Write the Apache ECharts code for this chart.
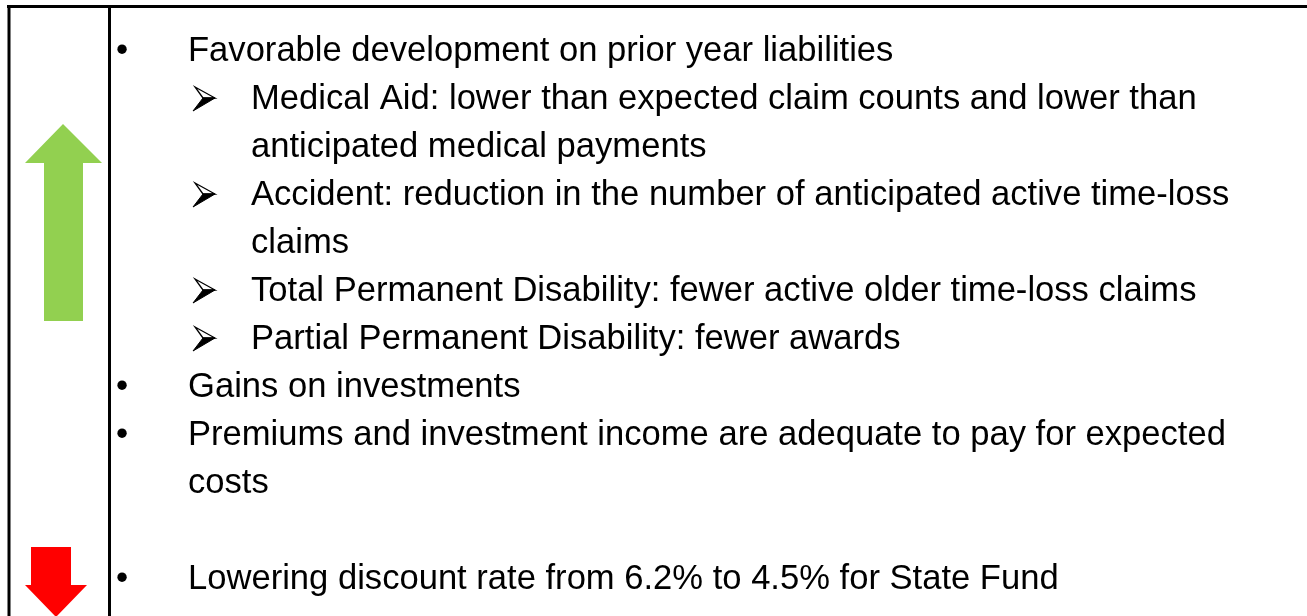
<!DOCTYPE html>
<html>
<head>
<meta charset="utf-8">
<script src="https://cdn.jsdelivr.net/npm/echarts@6/dist/echarts.min.js"></script>
<style>
html,body{margin:0;padding:0;background:#fff;}
#chart{width:1307px;height:616px;}
</style>
</head>
<body>
<div id="chart"></div>
<script>
// Text content of the slide
const lineTexts = [
  "Favorable development on prior year liabilities",
  "Medical Aid: lower than expected claim counts and lower than",
  "anticipated medical payments",
  "Accident: reduction in the number of anticipated active time-loss",
  "claims",
  "Total Permanent Disability: fewer active older time-loss claims",
  "Partial Permanent Disability: fewer awards",
  "Gains on investments",
  "Premiums and investment income are adequate to pay for expected",
  "costs",
  "",
  "Lowering discount rate from 6.2% to 4.5% for State Fund"
];
// 0 = main level, 1 = sub level
const lineLevels = [0, 1, 1, 1, 1, 1, 1, 0, 0, 0, 0, 0];
// bullet kind shown on that line ('' = continuation line)
const lineBullets = ["•", "➢", "", "➢", "", "➢", "➢", "•", "•", "", "", "•"];

const chart = echarts.init(document.getElementById('chart'), null, {renderer: 'canvas'});

const FONT = '"Liberation Sans", Arial, sans-serif';
const FS = 34.6;
const firstMid = 51, lineStep = 48;
const elements = [];

// frame lines
elements.push({type:'line', shape:{x1:7, y1:6.5, x2:1307, y2:6.5}, style:{stroke:'#000', lineWidth:3}});
elements.push({type:'line', shape:{x1:9, y1:5, x2:9, y2:616}, style:{stroke:'#000', lineWidth:3}});
elements.push({type:'line', shape:{x1:109.5, y1:5, x2:109.5, y2:616}, style:{stroke:'#000', lineWidth:3}});

// green up arrow
elements.push({type:'polygon', shape:{points:[[63,124],[102,163],[83,163],[83,321],[44,321],[44,163],[25,163]]}, style:{fill:'#92D050'}});
// red down arrow
elements.push({type:'polygon', shape:{points:[[31,547],[71,547],[71,585],[87,585],[56,617],[25,585],[31,585]]}, style:{fill:'#FF0000'}});

lineTexts.forEach((t, i) => {
  const mid = firstMid + i * lineStep;
  const lvl = lineLevels[i];
  const b = lineBullets[i];
  if (b === "•") {
    elements.push({type:'text', x:116, y:mid, style:{text:b, font:FS + 'px ' + FONT, fill:'#000', verticalAlign:'middle'}});
  } else if (b === "➢") {
    // arrowhead bullet: upper half outlined, lower half filled
    const ox = 193, oy = mid - 13;
    elements.push({type:'polygon', shape:{points:[[ox+2,oy+1],[ox+22,oy+12],[ox+10,oy+12]]}, style:{fill:'#fff', stroke:'#000', lineWidth:1.3}});
    elements.push({type:'polygon', shape:{points:[[ox+10,oy+12],[ox+22,oy+12],[ox,oy+25]]}, style:{fill:'#000', stroke:'#000', lineWidth:1}});
  }
  if (t) {
    elements.push({type:'text', x: lvl === 0 ? 188 : 251, y: mid, style:{text:t, font:FS + 'px ' + FONT, fill:'#000', verticalAlign:'middle'}});
  }
});

chart.setOption({
  backgroundColor:'#fff',
  animation:false,
  graphic:{elements: elements}
});
</script>
</body>
</html>
